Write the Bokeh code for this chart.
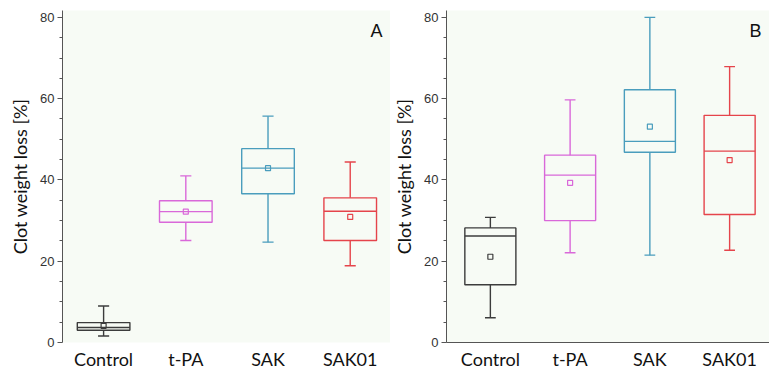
from bokeh.plotting import figure
from bokeh.layouts import row
from bokeh.models import FixedTicker, Label
from bokeh.embed import file_html
from bokeh.resources import INLINE

categories = ["Control", "t-PA", "SAK", "SAK01"]
colors = ["#3c3c3c", "#d968d9", "#4a9dbd", "#e5444b"]

# Panel A
a_low = [1.6, 25.1, 24.7, 18.9]
a_q1 = [3.0, 29.6, 36.6, 25.1]
a_med = [3.7, 32.2, 42.9, 32.3]
a_q3 = [4.9, 34.9, 47.7, 35.6]
a_high = [9.0, 41.0, 55.7, 44.4]
a_mean = [4.1, 32.2, 42.9, 30.9]

# Panel B
b_low = [6.1, 22.1, 21.5, 22.7]
b_q1 = [14.2, 30.0, 46.8, 31.5]
b_med = [26.2, 41.2, 49.5, 47.1]
b_q3 = [28.2, 46.1, 62.2, 55.9]
b_high = [30.8, 59.7, 80.0, 67.9]
b_mean = [21.1, 39.3, 53.1, 44.9]

y_ticks = [0, 20, 40, 60, 80]
y_minor = [5, 10, 15, 25, 30, 35, 45, 50, 55, 65, 70, 75]


def panel(low, q1, med, q3, high, mean, letter, xr, width, bl, br, xline):
    p = figure(width=width, height=372, x_range=xr, y_range=(0, 81.7),
               output_backend="svg", toolbar_location=None,
               min_border_left=bl, min_border_right=br, min_border_top=10,
               min_border_bottom=29)
    p.background_fill_color = "#f7fbf5"
    p.border_fill_color = "white"
    p.outline_line_color = None
    p.xgrid.visible = False
    p.ygrid.visible = False
    xs = [1, 2, 3, 4]
    bw = 0.64
    cw = 0.135
    p.quad(left=[x - bw / 2 for x in xs], right=[x + bw / 2 for x in xs],
           bottom=q1, top=q3, fill_color=None, line_color=colors, line_width=1.4)
    p.segment(x0=[x - bw / 2 for x in xs], x1=[x + bw / 2 for x in xs],
              y0=med, y1=med, line_color=colors, line_width=1.4)
    p.segment(x0=xs, x1=xs, y0=q3, y1=high, line_color=colors, line_width=1.4)
    p.segment(x0=xs, x1=xs, y0=low, y1=q1, line_color=colors, line_width=1.4)
    p.segment(x0=[x - cw / 2 for x in xs], x1=[x + cw / 2 for x in xs],
              y0=high, y1=high, line_color=colors, line_width=1.4)
    p.segment(x0=[x - cw / 2 for x in xs], x1=[x + cw / 2 for x in xs],
              y0=low, y1=low, line_color=colors, line_width=1.4)
    p.scatter(x=xs, y=mean, marker="square", size=5, fill_color=None,
              line_color=colors, line_width=1.2)

    p.yaxis.ticker = FixedTicker(ticks=y_ticks, minor_ticks=y_minor)
    p.yaxis.axis_label = "Clot weight loss [%]"
    p.yaxis.axis_label_text_font = "Lato"
    p.yaxis.axis_label_text_font_size = "18px"
    p.yaxis.axis_label_text_font_style = "normal"
    p.yaxis.axis_label_text_color = "#111111"
    p.yaxis.axis_label_standoff = 6
    p.yaxis.major_label_text_font = "Liberation Sans"
    p.yaxis.major_label_text_font_size = "13px"
    p.yaxis.major_label_text_color = "#333333"
    p.yaxis.major_label_standoff = 3
    p.yaxis.axis_line_color = "#555555"
    p.yaxis.major_tick_line_color = "#555555"
    p.yaxis.minor_tick_line_color = "#555555"
    p.yaxis.major_tick_out = 5
    p.yaxis.major_tick_in = 0
    p.yaxis.minor_tick_out = 3
    p.yaxis.minor_tick_in = 0

    p.xaxis.ticker = FixedTicker(ticks=xs, minor_ticks=[])
    p.xaxis.major_label_overrides = {x: c for x, c in zip(xs, categories)}
    p.xaxis.major_label_text_font = "Lato"
    p.xaxis.major_label_text_font_size = "18px"
    p.xaxis.major_label_text_color = "#111111"
    p.xaxis.major_label_standoff = 5
    p.xaxis.major_tick_out = 0
    p.xaxis.major_tick_in = 0
    p.xaxis.major_tick_line_color = None
    p.xaxis.minor_tick_line_color = None
    p.xaxis.axis_line_color = xline

    p.add_layout(Label(x=xr[1], y=81.7, x_units="data", y_units="data",
                       text=letter, x_offset=-8, y_offset=-30,
                       text_align="right", text_font="Liberation Sans",
                       text_font_size="18px", text_color="#111111"))
    return p


pa = panel(a_low, a_q1, a_med, a_q3, a_high, a_mean, "A", (0.5, 4.49), 390, 62, 0, None)
pb = panel(b_low, b_q1, b_med, b_q3, b_high, b_mean, "B", (0.45, 4.5), 379, 43, 0, "#555555")

layout = row(pa, pb, spacing=0)
open("out.html", "w").write(file_html(layout, INLINE))
